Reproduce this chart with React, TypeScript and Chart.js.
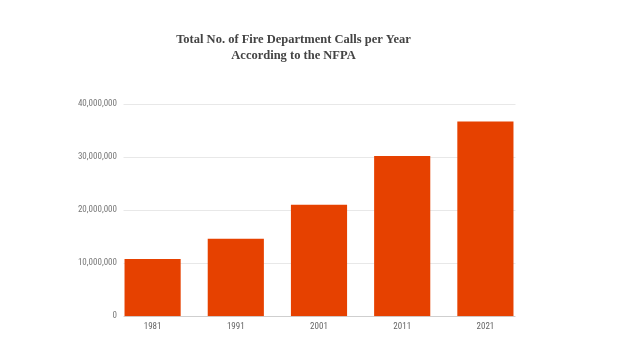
import React, { useEffect, useRef } from "react";
import { Chart, registerables } from "chart.js";

Chart.register(...registerables);

const categories = ["1981", "1991", "2001", "2011", "2021"];
const calls = [10800000, 14600000, 21000000, 30200000, 36700000];
const titleLines = ["Total No. of Fire Department Calls per Year", "According to the NFPA"];
const yMax = 40000000;
const yStep = 10000000;

const axisFont = "'Liberation Sans Narrow', 'Arial Narrow', 'Roboto Condensed', Roboto, sans-serif";

const gridPlugin = {
  id: "barSpanGrid",
  beforeDatasetsDraw(chart: any) {
    const meta = chart.getDatasetMeta(0);
    const els = meta.data;
    if (!els.length) return;
    const first: any = els[0];
    const last: any = els[els.length - 1];
    const x0 = first.x - first.width / 2 - 1;
    const x1 = last.x + last.width / 2 + 2;
    const y = chart.scales.y;
    const ctx = chart.ctx;
    ctx.save();
    y.ticks.forEach((t: any) => {
      const py = Math.round(y.getPixelForValue(t.value)) + 0.5;
      ctx.strokeStyle = t.value === 0 ? "#cfcfcf" : "#e8e8e8";
      ctx.lineWidth = 1;
      ctx.beginPath();
      ctx.moveTo(x0, py);
      ctx.lineTo(x1, py);
      ctx.stroke();
    });
    ctx.restore();
  },
};

export default function App() {
  const ref = useRef<HTMLCanvasElement | null>(null);
  useEffect(() => {
    if (!ref.current) return;
    const chart = new Chart(ref.current, {
      type: "bar",
      data: {
        labels: categories,
        datasets: [
          {
            data: calls,
            backgroundColor: "#e64100",
            borderWidth: 0,
            categoryPercentage: 1,
            barPercentage: 0.675,
          },
        ],
      },
      options: {
        animation: false,
        responsive: false,
        maintainAspectRatio: false,
        layout: { padding: { left: 60, right: 102, top: 0, bottom: 24 } },
        plugins: {
          legend: { display: false },
          tooltip: { enabled: false },
          title: {
            display: true,
            text: titleLines,
            color: "#444444",
            font: { family: "'Liberation Serif', 'DejaVu Serif', serif", size: 12.5, weight: "bold", lineHeight: 16 / 12.5 },
            padding: { top: 32, bottom: 40 },
          },
        },
        scales: {
          x: {
            offset: true,
            grid: { display: false, drawTicks: false },
            border: { display: false },
            ticks: { color: "#666666", font: { family: axisFont, size: 9 }, padding: 5 },
          },
          y: {
            min: 0,
            max: yMax,
            grid: { display: false, drawTicks: false },
            border: { display: false },
            ticks: {
              stepSize: yStep,
              color: "#777777",
              font: { family: axisFont, size: 9 },
              padding: -6,
              callback: (v: any) => Number(v).toLocaleString("en-US"),
            },
            afterFit: (s: any) => {
              s.width = 51;
              s._computeLabelArea = () => undefined;
            },
          },
        },
      } as any,
      plugins: [gridPlugin],
    });
    return () => chart.destroy();
  }, []);
  return (
    <div style={{ position: "fixed", left: 0, top: 0, width: 629, height: 361, background: "#fff" }}>
      <canvas ref={ref} width={629} height={361} style={{ display: "block", width: 629, height: 361 }} />
    </div>
  );
}
